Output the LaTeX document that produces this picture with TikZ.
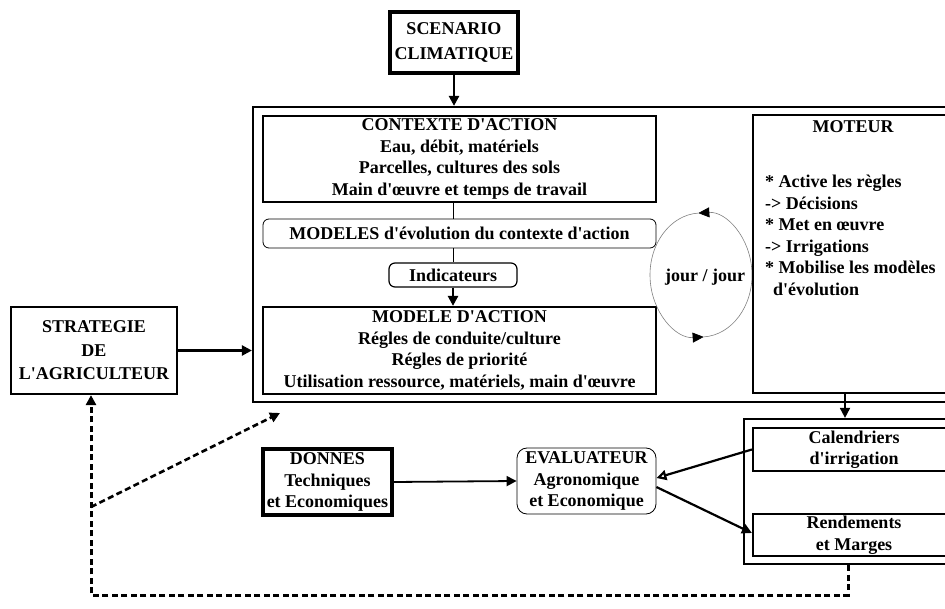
\documentclass[tikz,border=0pt]{standalone}
\usepackage{fontspec}
\setmainfont{Liberation Serif}[Ligatures=TeXOff]
\usetikzlibrary{arrows.meta}

\tikzset{
  boite/.style={draw, line width=2.2pt, align=center, inner sep=0pt},
  arrondi/.style={draw, line width=0.8pt, rounded corners=6pt, align=center, inner sep=0pt},
  fleche/.style={line width=2.4pt, -{Triangle[length=10pt,width=10pt]}},
  trait/.style={line width=0.7pt},
  tirets/.style={line width=3pt, dash pattern=on 6pt off 3.5pt},
  cercle/.style={line width=0.6pt, draw=gray, -{Triangle[length=11pt,width=10pt,fill=black,color=black]}}
}

\begin{document}
\begin{tikzpicture}[x=1pt,y=-1pt,font=\fontsize{18}{21.5}\selectfont\bfseries]
\useasboundingbox (0,0) rectangle (945,609);
\clip (0,0) rectangle (945,609);

\node[boite, line width=3.3pt, minimum width=128pt, minimum height=61pt] (scenario) at (454,42.5) {SCENARIO\\[3pt]CLIMATIQUE};

\node[boite, minimum width=700pt, minimum height=295pt] (cadre) at (603,254.5) {};
\node[boite, minimum width=393pt, minimum height=86pt] (contexte) at (459.5,159) {CONTEXTE D'ACTION\\Eau, débit, matériels\\Parcelles, cultures des sols\\Main d'œuvre et temps de travail};
\node[arrondi, minimum width=393pt, minimum height=29pt] (modeles) at (459.5,233.5) {MODELES d'évolution du contexte d'action};
\node[arrondi, line width=1.2pt, minimum width=128pt, minimum height=24pt] (indic) at (453,275) {Indicateurs};
\node[boite, minimum width=393pt, minimum height=87pt] (action) at (459.5,350.5) {MODELE D'ACTION\\Régles de conduite/culture\\Régles de priorité\\Utilisation ressource, matériels, main d'œuvre};

\coordinate (centre) at (701,275);
\node (jour) at (705,277) {jour / jour};
\draw[cercle] (centre) ++(87:51 and 62) arc[start angle=87, end angle=-93, x radius=51, y radius=62];
\draw[cercle] (centre) ++(-93:51 and 62) arc[start angle=-93, end angle=-273, x radius=51, y radius=62];

\node[boite, minimum width=202pt, minimum height=278pt] (moteur) at (854,254) {};
\node (titre) at (853,127) {MOTEUR};
\node[align=left, anchor=north west, inner sep=0pt] (regles) at (765,175) {* Active les règles\\-> Décisions\\* Met en œuvre\\-> Irrigations\\* Mobilise les modèles\\\hspace*{8pt}d'évolution};

\node[boite, minimum width=166pt, minimum height=87pt] (strategie) at (94,350.5) {STRATEGIE\\[2pt]DE\\[2pt]L'AGRICULTEUR};

\node[boite, line width=3.3pt, minimum width=129pt, minimum height=66pt] (donnes) at (327.5,482) {DONNES\\Techniques\\et Economiques};
\node[arrondi, rounded corners=10pt, minimum width=139pt, minimum height=66pt] (evaluateur) at (586.5,481) {EVALUATEUR\\Agronomique\\et Economique};

\node[boite, minimum width=211pt, minimum height=145pt] (sortie) at (849.5,491.5) {};
\node[boite, minimum width=202pt, minimum height=43pt] (calend) at (854,449.5) {Calendriers\\d'irrigation};
\node[boite, minimum width=202pt, minimum height=42pt] (rend) at (854,535) {Rendements\\et Marges};

\draw[fleche] (scenario.south) -- (scenario.south |- cadre.north);
\draw[trait] (contexte.south -| indic) -- (modeles.north -| indic);
\draw[trait] (modeles.south -| indic) -- (indic.north);
\draw[fleche] (indic.south) -- (action.north -| indic);
\draw[fleche] (strategie.east) -- (strategie.east -| cadre.west);
\draw[fleche, line width=1.8pt] ([xshift=-9pt]moteur.south) -- ([xshift=-9pt]moteur.south |- sortie.north);
\draw[fleche, line width=1.8pt] (donnes.east) -- (evaluateur.west);
\draw[line width=2.2pt, -{Triangle[open,length=10pt,width=10pt]}] (calend.west) -- ([yshift=3pt]evaluateur.east);
\draw[fleche, line width=2.2pt] ([yshift=-6pt]evaluateur.east) -- ([yshift=2pt]rend.west);

\coordinate (bas) at (848,595);
\coordinate (coin) at (91,595);
\coordinate (embr) at (91,507);
\coordinate (cible) at (280,413);
\draw[tirets, -{Triangle[length=10pt,width=10pt]}] (bas |- sortie.south) -- (bas) -- (coin) -- (coin |- strategie.south);
\draw[tirets, line width=2.6pt, -{Triangle[length=10pt,width=10pt]}] (embr) -- (cible);
\end{tikzpicture}
\end{document}
